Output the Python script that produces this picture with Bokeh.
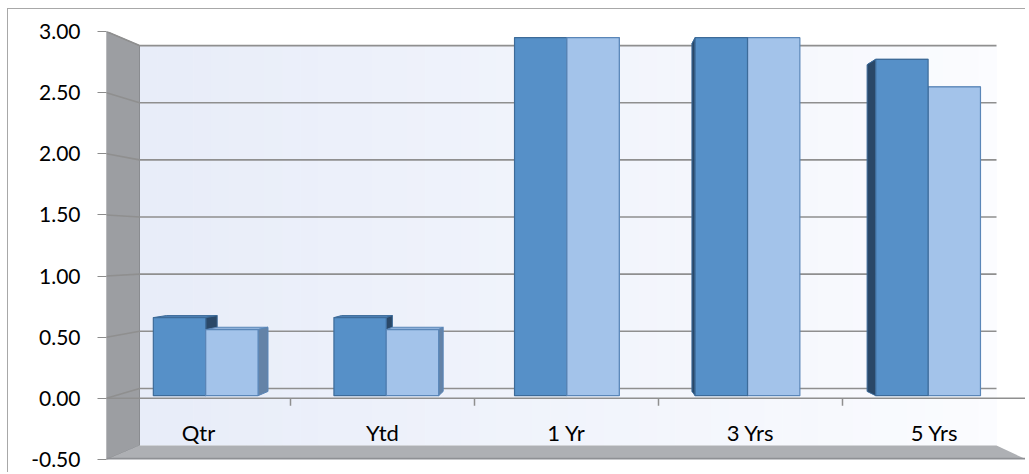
import numpy as np
from bokeh.plotting import figure
from bokeh.models import Range1d, FixedTicker, NumeralTickFormatter
from bokeh.core.properties import value
from bokeh.embed import file_html
from bokeh.resources import INLINE

# ---------------- data ----------------
categories = ["Qtr", "Ytd", "1 Yr", "3 Yrs", "5 Yrs"]
series1 = [0.65, 0.65, 2.98, 2.98, 2.80]
series2 = [0.55, 0.55, 2.98, 2.98, 2.57]
yticks = [-0.5, 0.0, 0.5, 1.0, 1.5, 2.0, 2.5, 3.0]

FONT = "Lato"

p = figure(width=1018, height=464, output_backend="svg", toolbar_location=None,
           x_range=Range1d(0, 5), y_range=Range1d(-0.5, 3.0),
           x_axis_location=None,
           min_border_left=98, min_border_right=0, min_border_top=22, min_border_bottom=14,
           background_fill_color="white", border_fill_color="white",
           styles={"border-top": "1px solid #a8a8a8", "border-left": "1px solid #a8a8a8",
                   "margin-left": "7px", "margin-top": "8px"})
p.outline_line_color = None
p.xgrid.visible = False
p.ygrid.visible = False

# y axis
ax = p.yaxis[0]
ax.ticker = FixedTicker(ticks=yticks)
ax.formatter = NumeralTickFormatter(format="0.00")
ax.axis_line_color = None
ax.major_tick_line_color = "#8c8c8c"
ax.major_tick_out = 9
ax.major_tick_in = 0
ax.minor_tick_line_color = None
ax.major_label_text_font = FONT
ax.major_label_text_font_size = "21px"
ax.major_label_text_color = "black"
ax.major_label_standoff = 17

# perspective helpers: depth d (0 = front, 1 = back wall) -> front data coords
def fx(u, d):
    return (33 * d + (184 - 12.6 * d) * u) / 184

def fy(v, d):
    return (9.9 * d + (122.3 - 8 * d) * v) / 122.3

y0, y1 = yticks[0], yticks[-1]
n = len(categories)

# back wall with horizontal gradient
N = 48
edges = np.linspace(0, n, N + 1)
c0 = np.array([232, 237, 249])
c1 = np.array([251, 252, 255])
cols = []
for k in range(N):
    t = k / (N - 1)
    c = (c0 * (1 - t) + c1 * t).astype(int)
    cols.append("#%02x%02x%02x" % tuple(c))
p.quad(left=[fx(e, 1) for e in edges[:-1]], right=[fx(e, 1) + 0.003 for e in edges[1:]],
       bottom=fy(y0, 1), top=fy(y1, 1), fill_color=cols, line_color=None)

# left side wall
p.patch([0, fx(0, 1), fx(0, 1), 0], [y0, fy(y0, 1), fy(y1, 1), y1],
        fill_color="#9c9ea2", line_color="#8a8c90", line_width=1)
# floor
p.patch([0, n, fx(n, 1), fx(0, 1)], [y0, y0, fy(y0, 1), fy(y0, 1)],
        fill_color="#aeb0b4", line_color=None)
p.line([0, n], [y0 + 0.006, y0 + 0.006], line_color="#8e9094", line_width=2)

# gridlines on back wall and side wall
gx, gy = [], []
for t in yticks[1:]:
    gx.append([0, fx(0, 1), fx(n, 1)])
    gy.append([t, fy(t, 1), fy(t, 1)])
p.multi_line(gx, gy, line_color="#8f8f8f", line_width=1.6)

# category axis line at 0 with ticks
p.line([0, n], [0, 0], line_color="#8f8f8f", line_width=1.5)
p.segment(x0=list(range(1, n + 1)), y0=[0] * n, x1=list(range(1, n + 1)), y1=[-0.06] * n,
          line_color="#8f8f8f", line_width=1.5)

# bars
D0, D1 = 0.27, 0.70
W = 0.29
VIEW = 2.62
style1 = dict(front="#5690c8", side="#2a4868", top="#4c80b5", line="#3d6b99")
style2 = dict(front="#a3c3ea", side="#6483a7", top="#8fb1da", line="#5a86b8")

for i in range(n):
    c = i + 0.5
    bars = [(c - W, c, series1[i], style1), (c, c + W, series2[i], style2)]
    if c > VIEW:
        bars = bars[::-1]
    for (l, r, v, st) in bars:
        fl, fr, bl, br = fx(l, D0), fx(r, D0), fx(l, D1), fx(r, D1)
        fb, ft, bb, bt = fy(0, D0), fy(v, D0), fy(0, D1), fy(v, D1)
        p.patch([fl, fr, br, bl], [ft, ft, bt, bt], fill_color=st["top"],
                line_color=st["line"], line_width=1)
        if c < VIEW:
            p.patch([fr, br, br, fr], [fb, bb, bt, ft], fill_color=st["side"],
                    line_color=st["line"], line_width=1)
        else:
            p.patch([fl, bl, bl, fl], [fb, bb, bt, ft], fill_color=st["side"],
                    line_color=st["line"], line_width=1)
        p.quad(left=[fl], right=[fr], bottom=[fb], top=[ft], fill_color=st["front"],
               line_color=st["line"], line_width=1.2)

# category labels
p.text(x=[i + 0.5 for i in range(n)], y=[-0.28] * n, text=categories,
       text_align="center", text_baseline="middle", text_font=value(FONT),
       text_font_size="22px", text_color="black")

open("out.html", "w").write(file_html(p, INLINE))
